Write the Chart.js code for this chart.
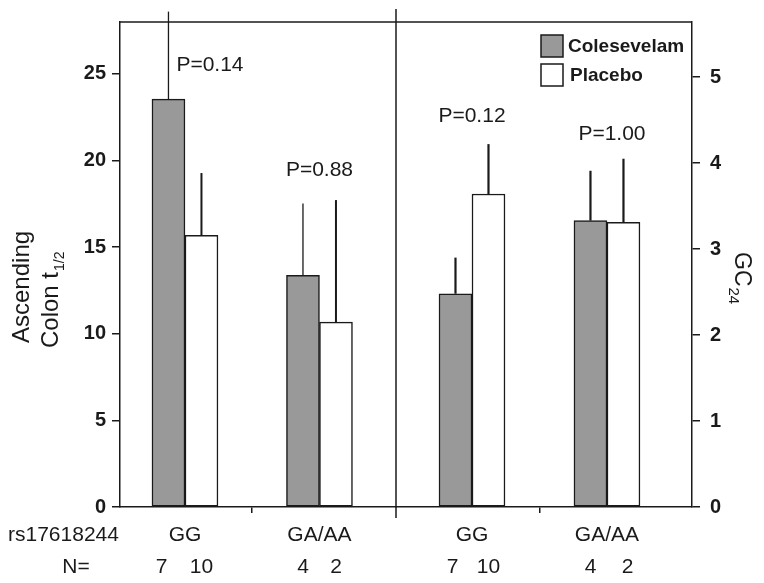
<!DOCTYPE html>
<html><head><meta charset="utf-8">
<script src="https://cdn.jsdelivr.net/npm/chart.js@4.4.1/dist/chart.umd.min.js"></script>
<style>
html,body{margin:0;padding:0;background:#fff;}
#wrap{position:relative;width:764px;height:583px;overflow:hidden;}
canvas{position:absolute;left:0;top:0;}
</style></head><body>
<div id="wrap"><canvas id="cL" width="764" height="583"></canvas><canvas id="cR" width="764" height="583"></canvas></div>
<script>
// ---------- data ----------
const categories = ['GG', 'GA/AA'];
const seriesNames = ['Colesevelam', 'Placebo'];
const nColesevelam = [7, 4];
const nPlacebo = [10, 2];
// left panel: Ascending colon t1/2 (mean, SD)
const t12Colesevelam = [23.55, 13.37];
const t12ColesevelamSD = [5.05, 4.15];
const t12Placebo = [15.68, 10.67];
const t12PlaceboSD = [3.6, 7.05];
const t12PValues = ['P=0.14', 'P=0.88'];
// right panel: GC24 (mean, SD)
const gcColesevelam = [2.48, 3.33];
const gcColesevelamSD = [0.42, 0.58];
const gcPlacebo = [3.64, 3.31];
const gcPlaceboSD = [0.58, 0.74];
const gcPValues = ['P=0.12', 'P=1.00'];
const leftTicks = [0, 5, 10, 15, 20, 25];
const rightTicks = [0, 1, 2, 3, 4, 5];

// ---------- style / layout ----------
const FONT = '"Liberation Sans", Arial, Helvetica, sans-serif';
const INK = '#1a1a1a';
const GRAY = '#999999';
const W = 764, H = 583;
const PLOT = { top: 22, bottom: 507, left: 120, mid: 396, right: 692 };

const decor = {
  id: 'decor',
  afterDatasetsDraw(chart, args, o) {
    const ctx = chart.ctx, ys = chart.scales.y;
    ctx.save();
    ctx.strokeStyle = INK;
    chart.data.datasets.forEach((d, di) => {
      const meta = chart.getDatasetMeta(di);
      meta.data.forEach((el, i) => {
        const top = ys.getPixelForValue(d.data[i].y + d.sd[i]);
        ctx.lineWidth = o.errWidth[di];
        ctx.beginPath(); ctx.moveTo(el.x, el.y); ctx.lineTo(el.x, top); ctx.stroke();
      });
    });
    ctx.restore();
  },
  afterDraw(chart, args, o) {
    const ctx = chart.ctx, ca = chart.chartArea, ys = chart.scales.y;
    ctx.save();
    // top frame line
    ctx.strokeStyle = INK; ctx.lineWidth = 1.5;
    ctx.beginPath(); ctx.moveTo(ca.left, ca.top); ctx.lineTo(ca.right, ca.top); ctx.stroke();
    // N labels
    ctx.fillStyle = INK; ctx.font = '21px ' + FONT;
    ctx.textAlign = 'center'; ctx.textBaseline = 'middle';
    chart.data.datasets.forEach((d, di) => {
      chart.getDatasetMeta(di).data.forEach((el, i) => {
        ctx.fillText(String(d.n[i]), el.x + o.nDx[di][i], o.nRowY);
      });
    });
    // P labels
    const m0 = chart.getDatasetMeta(0).data, m1 = chart.getDatasetMeta(1).data;
    o.pText.forEach((t, i) => {
      const cx = (m0[i].x + m1[i].x) / 2 + o.pDx[i];
      ctx.fillText(t, cx, ys.getPixelForValue(o.pY[i]));
    });
    ctx.restore();
  }
};

const leftExtras = {
  id: 'leftExtras',
  afterDraw(chart) {
    const ctx = chart.ctx;
    ctx.save();
    ctx.fillStyle = INK;
    // y title
    ctx.textAlign = 'left'; ctx.textBaseline = 'alphabetic';
    ctx.save(); ctx.translate(29, 343); ctx.rotate(-Math.PI / 2);
    ctx.font = '24px ' + FONT; ctx.fillText('Ascending', 0, 0);
    ctx.restore();
    ctx.save(); ctx.translate(58, 348); ctx.rotate(-Math.PI / 2);
    ctx.font = '24px ' + FONT; ctx.fillText('Colon t', 0, 0);
    const w = ctx.measureText('Colon t').width;
    ctx.font = '14px ' + FONT; ctx.fillText('1/2', w + 1, 6);
    ctx.restore();
    // row labels
    ctx.font = '21px ' + FONT; ctx.textBaseline = 'middle';
    ctx.textAlign = 'left'; ctx.fillText('rs17618244', 8, 535);
    ctx.textAlign = 'center'; ctx.fillText('N=', 76, 567);
    ctx.restore();
  }
};

const rightExtras = {
  id: 'rightExtras',
  afterDraw(chart) {
    const ctx = chart.ctx, ca = chart.chartArea;
    ctx.save();
    // divider between panels
    ctx.strokeStyle = INK; ctx.lineWidth = 1.5;
    ctx.beginPath(); ctx.moveTo(ca.left, 9); ctx.lineTo(ca.left, 518); ctx.stroke();
    // legend
    chart.data.datasets.forEach((d, i) => {
      const y = 35 + i * 29;
      ctx.fillStyle = d.backgroundColor; ctx.fillRect(541, y, 22, 22);
      ctx.lineWidth = 1.5; ctx.strokeStyle = INK; ctx.strokeRect(541, y, 22, 22);
      ctx.fillStyle = INK; ctx.font = 'bold 19px ' + FONT;
      ctx.textAlign = 'left'; ctx.textBaseline = 'middle';
      ctx.fillText(d.label, 568 + i * 2, y + 12);
    });
    // right title GC24
    ctx.save(); ctx.translate(735, 252); ctx.rotate(Math.PI / 2);
    ctx.fillStyle = INK; ctx.textAlign = 'left'; ctx.textBaseline = 'alphabetic';
    ctx.font = '23px ' + FONT; ctx.fillText('GC', 0, 0);
    const w = ctx.measureText('GC').width;
    ctx.font = '15px ' + FONT; ctx.fillText('24', w + 1, 6);
    ctx.restore();
    ctx.restore();
  }
};

function makePanel(id, cfg, extras) {
  const ds = (label, vals, sd, n, fill) => ({
    label, data: vals.map((v, i) => ({ x: i, y: v })), sd, n,
    backgroundColor: fill, borderColor: INK, borderWidth: 1.5, borderSkipped: false,
    barThickness: 33
  });
  return new Chart(document.getElementById(id), {
    type: 'bar',
    data: { datasets: [
      ds(seriesNames[0], cfg.coles, cfg.colesSD, nColesevelam, GRAY),
      ds(seriesNames[1], cfg.plac, cfg.placSD, nPlacebo, '#ffffff')
    ] },
    options: {
      responsive: false, animation: false, devicePixelRatio: 1,
      layout: { padding: cfg.padding },
      plugins: {
        legend: { display: false }, tooltip: { enabled: false },
        decor: cfg.decor
      },
      scales: {
        x: {
          type: 'linear', min: cfg.xMin, max: cfg.xMax, offset: false,
          afterBuildTicks: s => { s.ticks = [0, 0.5, 1].map(v => ({ value: v })); },
          afterFit: s => { s.height = H - PLOT.bottom; },
          grid: { offset: false, drawOnChartArea: false, tickLength: 6, lineWidth: 1.5,
            color: c => (c.tick && c.tick.value === 0.5) ? INK : 'rgba(0,0,0,0)' },
          border: { color: INK, width: 1.5 },
          ticks: { autoSkip: false, maxRotation: 0, padding: 10, color: INK,
            font: { family: FONT, size: 21 },
            callback: v => Number.isInteger(v) ? categories[v] : '' }
        },
        y: {
          position: cfg.side, min: 0, max: cfg.yMax,
          afterBuildTicks: s => { s.ticks = cfg.ticks.map(v => ({ value: v })); },
          afterFit: s => { s.width = cfg.yWidth; },
          grid: { drawOnChartArea: false, tickLength: 8, lineWidth: 1.5, color: INK },
          border: { color: INK, width: 1.5 },
          ticks: { padding: cfg.tickPad, color: INK, font: { family: FONT, size: 20, weight: 'bold' } }
        }
      }
    },
    plugins: [decor, extras]
  });
}

makePanel('cL', {
  coles: t12Colesevelam, colesSD: t12ColesevelamSD, plac: t12Placebo, placSD: t12PlaceboSD,
  padding: { left: 0, right: W - PLOT.mid, top: PLOT.top, bottom: 0 },
  xMin: -0.483, xMax: 1.569, side: 'left', yMax: 28, ticks: leftTicks, yWidth: PLOT.left, tickPad: 6,
  decor: { errWidth: [1.3, 2], nRowY: 567, nDx: [[-7, 0], [0, 0]],
    pText: t12PValues, pY: [25.5, 19.45], pDx: [25, 0] }
}, leftExtras);

makePanel('cR', {
  coles: gcColesevelam, colesSD: gcColesevelamSD, plac: gcPlacebo, placSD: gcPlaceboSD,
  padding: { left: PLOT.mid, right: 0, top: PLOT.top, bottom: 0 },
  xMin: -0.563, xMax: 1.63, side: 'right', yMax: 5.64, ticks: rightTicks, yWidth: W - PLOT.right, tickPad: 10,
  decor: { errWidth: [2.2, 2.2], nRowY: 567, nDx: [[-3, 0], [0, 4]],
    pText: gcPValues, pY: [4.55, 4.34], pDx: [0, 5] }
}, rightExtras);
</script>
</body></html>
